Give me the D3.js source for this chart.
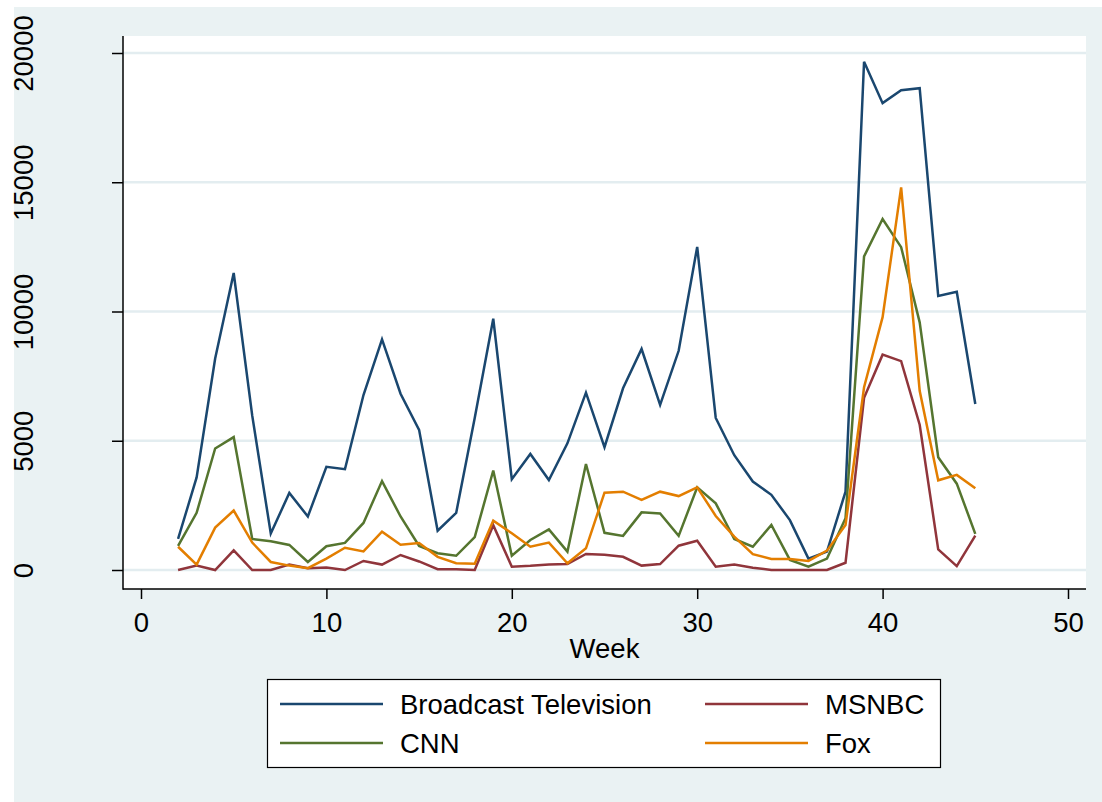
<!DOCTYPE html>
<html>
<head>
<meta charset="utf-8">
<script src="https://cdn.jsdelivr.net/npm/d3@7"></script>
<style>
  html, body { margin: 0; padding: 0; background: #ffffff; }
  svg { display: block; }
  text { font-family: "Liberation Sans", Arial, Helvetica, sans-serif; fill: #000; }
</style>
</head>
<body>
<svg id="chart" width="1102" height="802"></svg>
<script>
// Weekly coverage counts by outlet
const weeks = [2,3,4,5,6,7,8,9,10,11,12,13,14,15,16,17,18,19,20,21,22,23,24,25,26,27,28,29,30,31,32,33,34,35,36,37,38,39,40,41,42,43,44,45];

const broadcastTV = [1200,3580,8180,11490,5970,1410,2980,2070,3990,3900,6770,8920,6820,5420,1520,2210,5880,9720,3510,4490,3480,4900,6860,4750,7030,8550,6390,8480,12500,5880,4440,3420,2910,1930,440,710,3030,19660,18060,18560,18640,10600,10760,6420];
const cnn = [930,2210,4700,5140,1200,1110,970,310,920,1050,1820,3440,2070,930,650,550,1270,3850,550,1160,1570,710,4100,1440,1320,2230,2190,1320,3200,2580,1200,900,1740,390,130,440,2000,12130,13580,12490,9580,4360,3340,1400];
const msnbc = [0,170,0,760,0,0,210,70,100,0,350,210,580,330,30,30,0,1730,130,160,210,230,620,590,510,170,230,940,1130,130,210,90,0,0,0,0,280,6660,8330,8080,5620,800,150,1330];
const fox = [900,210,1640,2300,1060,310,170,70,440,860,720,1480,980,1040,510,260,240,1910,1420,900,1060,260,840,2990,3030,2710,3030,2860,3200,2090,1290,610,430,430,350,750,1740,7070,9780,14800,6930,3470,3680,3160];

const xTicks = [0, 10, 20, 30, 40, 50];
const yTicks = [0, 5000, 10000, 15000, 20000];

const seriesNames = ["Broadcast Television", "CNN", "MSNBC", "Fox"];
const seriesValues = [broadcastTV, cnn, msnbc, fox];
const seriesColors = ["#1a476f", "#55752f", "#90353b", "#e37e00"];

const svg = d3.select("#chart");
const FONT = 27.5;
const LINE_W = 2.5;

// Outer graph region
svg.append("rect")
  .attr("x", 14).attr("y", 7).attr("width", 1102 - 14).attr("height", 802 - 7)
  .attr("fill", "#eaf2f3");

// Plot region
const plot = { left: 123, right: 1086, top: 36, bottom: 589 };
svg.append("rect")
  .attr("x", plot.left).attr("y", plot.top)
  .attr("width", plot.right - plot.left).attr("height", plot.bottom - plot.top)
  .attr("fill", "#ffffff");

const x = d3.scaleLinear().domain([0, 50]).range([141, 1068]);
const y = d3.scaleLinear().domain([0, 20000]).range([570, 53]);

// Horizontal grid
svg.append("g")
  .selectAll("line")
  .data(yTicks)
  .join("line")
  .attr("x1", plot.left).attr("x2", plot.right)
  .attr("y1", d => y(d)).attr("y2", d => y(d))
  .attr("stroke", "#e3edf0").attr("stroke-width", 2.4);

// Y axis with rotated tick labels
const yAxis = svg.append("g")
  .attr("transform", `translate(${plot.left},0)`)
  .call(d3.axisLeft(y).tickValues(yTicks).tickSize(11).tickSizeOuter(0).tickFormat(d3.format("d")));
yAxis.select(".domain").remove();
yAxis.selectAll(".tick line").attr("stroke", "#000").attr("stroke-width", 1.5);
yAxis.selectAll(".tick text")
  .attr("font-size", FONT)
  .attr("text-anchor", "middle")
  .attr("dy", null)
  .attr("x", 0)
  .attr("transform", `translate(${33 - plot.left},0) rotate(-90)`)
  .attr("y", 0);

// X axis
const xAxis = svg.append("g")
  .attr("transform", `translate(0,${plot.bottom})`)
  .call(d3.axisBottom(x).tickValues(xTicks).tickSize(10).tickSizeOuter(0).tickFormat(d3.format("d")));
xAxis.select(".domain").remove();
xAxis.selectAll(".tick line").attr("stroke", "#000").attr("stroke-width", 1.5);
xAxis.selectAll(".tick text")
  .attr("font-size", FONT)
  .attr("dy", null)
  .attr("y", 43);

// Axis lines
svg.append("line")
  .attr("x1", plot.left).attr("x2", plot.left)
  .attr("y1", plot.top).attr("y2", plot.bottom + 0.75)
  .attr("stroke", "#000").attr("stroke-width", 1.5);
svg.append("line")
  .attr("x1", plot.left).attr("x2", plot.right)
  .attr("y1", plot.bottom).attr("y2", plot.bottom)
  .attr("stroke", "#000").attr("stroke-width", 1.5);

// X axis title
svg.append("text")
  .attr("x", (x(0) + x(50)) / 2).attr("y", 658)
  .attr("text-anchor", "middle").attr("font-size", FONT)
  .text("Week");

// Series lines
const line = d3.line()
  .x((d, i) => x(weeks[i]))
  .y(d => y(d));

svg.append("g")
  .selectAll("path")
  .data(seriesValues)
  .join("path")
  .attr("d", d => line(d))
  .attr("fill", "none")
  .attr("stroke", (d, i) => seriesColors[i])
  .attr("stroke-width", LINE_W)
  .attr("stroke-linejoin", "miter");

// Legend
const legend = svg.append("g");
legend.append("rect")
  .attr("x", 267.5).attr("y", 679.5).attr("width", 673).attr("height", 88)
  .attr("fill", "#fff").attr("stroke", "#000").attr("stroke-width", 1.2);

const legendOrder = [0, 2, 1, 3]; // two columns, filled row by row
const colX = [280, 705];
const rowY = [704, 743];
legendOrder.forEach((s, k) => {
  const cx = colX[k % 2];
  const cy = rowY[Math.floor(k / 2)];
  legend.append("line")
    .attr("x1", cx).attr("x2", cx + 103)
    .attr("y1", cy).attr("y2", cy)
    .attr("stroke", seriesColors[s]).attr("stroke-width", LINE_W);
  legend.append("text")
    .attr("x", cx + 120).attr("y", cy + 10)
    .attr("font-size", FONT)
    .text(seriesNames[s]);
});
</script>
</body>
</html>
